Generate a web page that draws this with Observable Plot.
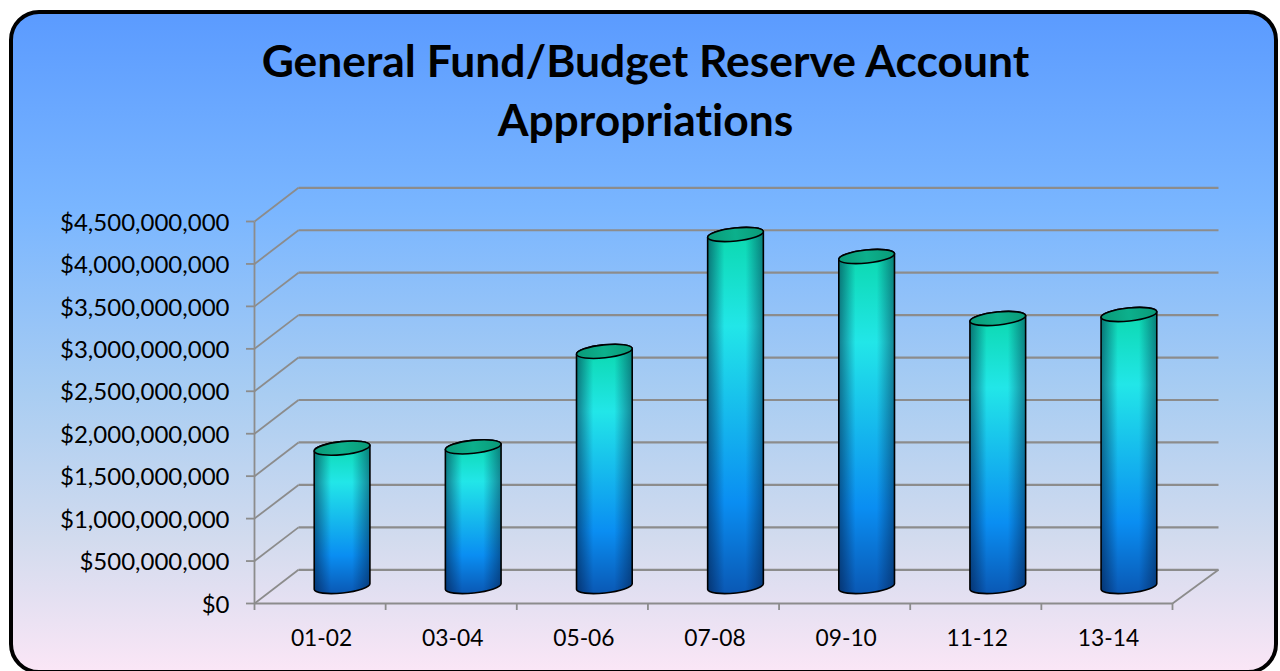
<!DOCTYPE html>
<html><head><meta charset="utf-8">
<script src="https://cdn.jsdelivr.net/npm/d3@7"></script>
<script src="https://cdn.jsdelivr.net/npm/@observablehq/plot@0.6"></script>
<style>
html,body{margin:0;padding:0;background:#fff;overflow:hidden;width:1280px;height:671px}
#frame{position:absolute;left:9px;top:10px;width:1269px;height:664px;box-sizing:border-box;border:4px solid #000;border-radius:30px;
background:linear-gradient(180deg,#5b9bff 0%,#7ab6ff 30%,#a9cdf2 58%,#d2dbee 80%,#fae6f6 100%)}
#chart{position:absolute;left:0;top:0}
#title{position:absolute;left:0;width:1291px;top:30px;text-align:center;font:700 44.4px/59px Lato,sans-serif;font-variant-ligatures:none;color:#000;margin:0}
svg{background:transparent!important;overflow:visible;font-variant-ligatures:none}
</style></head><body>
<div id="frame"></div>
<div id="chart"></div>
<h1 id="title">General Fund/Budget Reserve Account<br>Appropriations</h1>
<script>
const periods = ["01-02","03-04","05-06","07-08","09-10","11-12","13-14"];
const appropriations = [1.63e9,1.645e9,2.77e9,4.147e9,3.887e9,3.157e9,3.204e9];
const yTicks = [0,5e8,1e9,1.5e9,2e9,2.5e9,3e9,3.5e9,4e9,4.5e9];

const table = periods.map((p,i)=>({period:p,i,value:appropriations[i]}));
const xEdges = d3.range(periods.length+1);
const xMids = periods.map((_,i)=>i+0.5);
const n = periods.length;
// oblique depth of the 3-D box, in data units
const depthX = 44/131.14, depthY = 33.7/(382/4.5e9);
const GRID = "#8c8c8c";
const fontFam = "Lato,sans-serif";

const defs = () => {
  const d = d3.create("svg:defs");
  const lg = (id,attrs,stops)=>{
    const g = d.append("linearGradient").attr("id",id);
    Object.entries(attrs).forEach(([k,v])=>g.attr(k,v));
    stops.forEach(([o,c,a])=>g.append("stop").attr("offset",o).attr("stop-color",c).attr("stop-opacity",a??1));
  };
  lg("body",{x1:0,y1:0,x2:0,y2:1},[[0,"#0ad8ac"],[0.27,"#22e6e8"],[0.75,"#0a8ef2"],[1,"#0a58b4"]]);
  lg("shade",{x1:0,y1:0,x2:1,y2:0},[[0,"#001030",0.5],[0.3,"#001030",0],[0.68,"#001030",0],[1,"#001030",0.45]]);
  lg("cap",{x1:0,y1:0,x2:1,y2:0},[[0,"#0a9a78"],[0.5,"#0cb08c"],[1,"#0a9a78"]]);
  return d.node();
};

const rx=28, ry=6.5, rot=-6;
const ex=rx*Math.cos(rot*Math.PI/180), ey=rx*Math.sin(rot*Math.PI/180);
function cylinder(index,scales,channels,dims,ctx,next){
  const g = next(index,scales,channels,dims,ctx);
  const sel = d3.select(g);
  sel.selectAll("rect").each(function(){
    const r = d3.select(this);
    const x=+r.attr("x"), w=+r.attr("width"), y=+r.attr("y"), h=+r.attr("height");
    const cx=x+w/2, b=y+h;
    const d=`M${cx-ex},${y-ey}L${cx-ex},${b-ey}A${rx},${ry} ${rot} 0 0 ${cx+ex},${b+ey}L${cx+ex},${y+ey}A${rx},${ry} ${rot} 0 0 ${cx-ex},${y-ey}Z`;
    const parent = d3.select(this.parentNode);
    parent.append("path").attr("d",d).attr("fill","url(#body)").attr("stroke","none");
    parent.append("path").attr("d",d).attr("fill","url(#shade)").attr("stroke","#000").attr("stroke-width",1.6);
    parent.append("ellipse").attr("cx",0).attr("cy",0).attr("rx",rx).attr("ry",ry)
      .attr("transform",`translate(${cx},${y}) rotate(${rot})`)
      .attr("fill","url(#cap)").attr("stroke","#000").attr("stroke-width",1.6);
    r.remove();
  });
  return g;
}

const plot = Plot.plot({
  width:1280,height:671,
  marginLeft:254,marginRight:108,marginTop:221,marginBottom:68,
  style:{background:"transparent",fontFamily:fontFam},
  x:{type:"linear",domain:[0,n]},
  y:{type:"linear",domain:[0,4.5e9]},
  marks:[
    defs,
    // back wall lines
    Plot.link(yTicks,{x1:depthX,x2:n+depthX+2/131.14,y1:d=>d+depthY,y2:d=>d+depthY,stroke:GRID,strokeWidth:2.2}),
    // side wall diagonals
    Plot.link(yTicks,{x1:0,x2:depthX,y1:d=>d,y2:d=>d+depthY,stroke:GRID,strokeWidth:1.8}),
    // floor right edge
    Plot.link([0],{x1:n,x2:n+depthX+2/131.14,y1:0,y2:depthY,stroke:GRID,strokeWidth:1.8}),
    // front floor edge & vertical axis
    Plot.link([0],{x1:0,x2:n,y1:0,y2:0,stroke:GRID,strokeWidth:2.2}),
    Plot.link([0],{x1:0,x2:0,y1:0,y2:4.5e9,stroke:GRID,strokeWidth:1.8}),
    Plot.axisY({ticks:yTicks,tickSize:8,stroke:GRID,strokeWidth:1.8,tickFormat:()=>"",label:null}),
    Plot.axisY({ticks:yTicks,tickSize:0,tickPadding:25,dy:1.5,
      tickFormat:d=>"$"+d3.format(",")(d),fontSize:24,fill:"#000",label:null}),
    Plot.axisX({ticks:xEdges,tickSize:7,stroke:GRID,strokeWidth:1.8,tickFormat:()=>"",label:null}),
    Plot.axisX({ticks:xMids,tickSize:0,tickPadding:26,dx:1.5,tickFormat:d=>periods[d-0.5],fontSize:22.8,fill:"#000",label:null}),
    Plot.rectY(table,{x1:d=>d.i+0.25,x2:d=>d.i+0.75,y1:0,y2:"value",dx:22.5,dy:-16.5,fill:"#0a8ef2",
      insetLeft:4.8,insetRight:4.8,render:cylinder})
  ]
});
document.getElementById("chart").append(plot);
</script>
</body></html>
